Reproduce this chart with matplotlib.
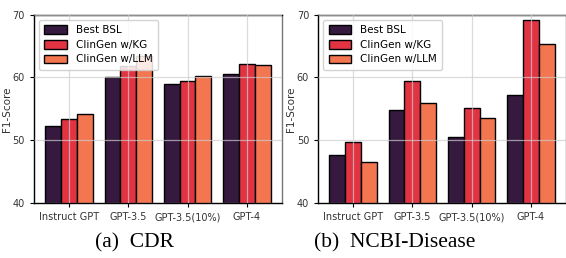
import matplotlib
matplotlib.use("Agg")
import matplotlib.pyplot as plt
import numpy as np

models = ["Instruct GPT", "GPT-3.5", "GPT-3.5(10%)", "GPT-4"]
methods = ["Best BSL", "ClinGen w/KG", "ClinGen w/LLM"]
colors = ["#35193e", "#e13342", "#f37651"]

cdr_bsl = [52.2, 60.1, 59.0, 60.6]
cdr_kg = [53.4, 61.8, 59.5, 62.1]
cdr_llm = [54.2, 63.4, 60.2, 62.0]

ncbi_bsl = [47.7, 54.8, 50.5, 57.2]
ncbi_kg = [49.8, 59.5, 55.1, 69.2]
ncbi_llm = [46.5, 55.9, 53.6, 65.3]

panels = [
    ("(a)  CDR", [cdr_bsl, cdr_kg, cdr_llm]),
    ("(b)  NCBI-Disease", [ncbi_bsl, ncbi_kg, ncbi_llm]),
]

fig = plt.figure(figsize=(5.66, 2.58), dpi=100)
lefts = [0.060, 0.562]
caption_x = [0.237, 0.698]
x = np.arange(len(models))
w = 0.8 / 3

for (caption, series), left, cx in zip(panels, lefts, caption_x):
    ax = fig.add_axes([left, 0.213, 0.438, 0.73])
    for i, (vals, name, c) in enumerate(zip(series, methods, colors)):
        ax.bar(x + (i - 1) * w, vals, w, color=c, edgecolor="black",
               linewidth=1.0, label=name, zorder=2)
    ax.set_ylim(40, 70)
    ax.set_yticks([40, 50, 60, 70])
    ax.set_xticks(x)
    ax.set_xticklabels(models)
    ax.tick_params(labelsize=7, colors="#333333", length=3, width=0.8)
    ax.tick_params(axis="both", color="black")
    ax.grid(True, color="#cccccc", linewidth=0.9, alpha=0.7, zorder=3)
    ax.set_axisbelow(False)
    ax.set_ylabel("F1-Score", fontsize=7.5, color="#333333")
    ax.yaxis.set_label_coords(-0.088, 0.5)
    for s in ax.spines.values():
        s.set_color("black")
        s.set_linewidth(1.0)
    ax.spines["right"].set_color("#777777")
    ax.legend(loc="upper left", fontsize=7.5, handlelength=2.2,
              handleheight=0.9, borderpad=0.5, labelspacing=0.45,
              framealpha=0.85, edgecolor="#cccccc", fancybox=True)
    fig.text(cx, 0.06, caption, ha="center", va="center",
             fontsize=15.5, family="Liberation Serif")

fig.savefig("out.png", dpi=100)
